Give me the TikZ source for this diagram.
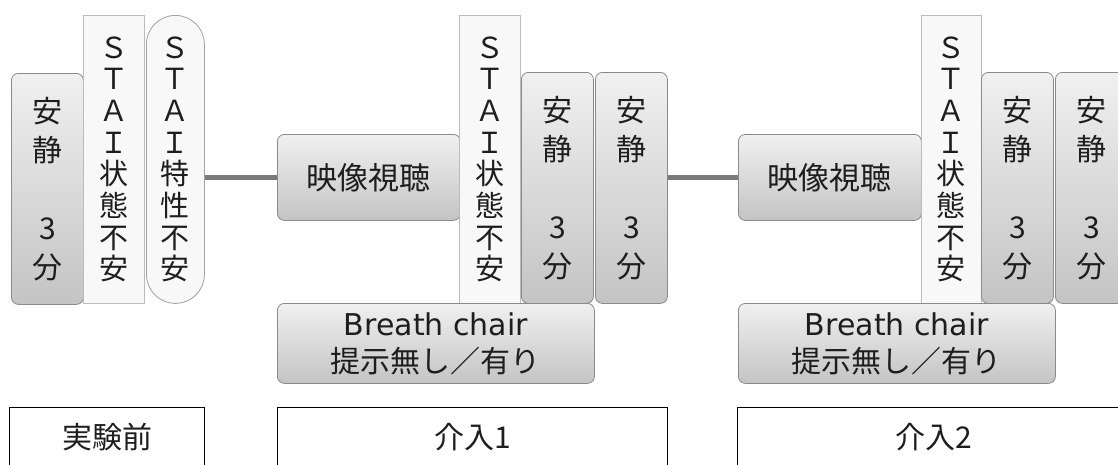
\documentclass[tikz,border=0pt]{standalone}
\usepackage{fontspec}
\setmainfont{Noto Sans CJK JP}
\newfontfamily\lat{DejaVu Sans}
\definecolor{gtop}{HTML}{F0F0F0}
\definecolor{gbot}{HTML}{C4C4C4}
\definecolor{boxline}{HTML}{8A8A8A}
\definecolor{staifill}{HTML}{F8F8F8}
\definecolor{stailine}{HTML}{BBBBBB}
\definecolor{linkgray}{HTML}{7A7A7A}
\definecolor{txt}{HTML}{1E1E1E}
\begin{document}
\begin{tikzpicture}[x=1pt,y=-1pt,
  gbox/.style={draw=boxline, line width=0.8pt, rounded corners=7pt, top color=gtop, bottom color=gbot,
    inner sep=0pt, anchor=north west, align=center, text=txt},
  restbox/.style={gbox, minimum width=72pt, minimum height=231pt, font=\fontsize{30}{39}\selectfont},
  staibox/.style={draw=stailine, fill=staifill, line width=0.8pt, inner sep=0pt, anchor=north west,
    align=center, text=txt, minimum width=61pt, minimum height=288pt, font=\fontsize{29}{31.7}\selectfont},
  pillbox/.style={staibox, draw=boxline!80, rounded corners=29pt, minimum width=58pt},
  eizobox/.style={gbox, minimum width=183pt, minimum height=86pt, font=\fontsize{31}{37}\selectfont},
  breathbox/.style={gbox, minimum width=317pt, minimum height=80pt, font=\fontsize{30}{37}\selectfont},
  phasebox/.style={draw=black, line width=1pt, fill=white, inner sep=0pt, anchor=north west,
    minimum height=60pt, font=\fontsize{30}{36}\selectfont, text=txt},
  link/.style={draw=linkgray, line width=5.5pt}]
\useasboundingbox (0,0) rectangle (1118,464);
\clip (0,0) rectangle (1118,464);

% --- pre-experiment
\node[restbox] (restA) at (11,73) {安\\静\\~\\3\\分};
\node[staibox] (staiA) at (83,15) {Ｓ\\Ｔ\\Ａ\\Ｉ\\状\\態\\不\\安};
\node[pillbox] (toku) at (146,15) {Ｓ\\Ｔ\\Ａ\\Ｉ\\特\\性\\不\\安};

% --- intervention 1
\node[eizobox] (eizoA) at (277,134) {映像視聴};
\node[staibox] (staiB) at (459,15) {Ｓ\\Ｔ\\Ａ\\Ｉ\\状\\態\\不\\安};
\node[restbox] (restB1) at (521,72) {安\\静\\~\\3\\分};
\node[restbox] (restB2) at (595,72) {安\\静\\~\\3\\分};
\node[breathbox] (breathA) at (277,303) {{\lat Breath chair}\\提示無し／有り};

% --- intervention 2
\node[eizobox] (eizoB) at (738,134) {映像視聴};
\node[staibox, minimum width=60pt] (staiC) at (921,15) {Ｓ\\Ｔ\\Ａ\\Ｉ\\状\\態\\不\\安};
\node[restbox] (restC1) at (981,72) {安\\静\\~\\3\\分};
\node[restbox] (restC2) at (1055,72) {安\\静\\~\\3\\分};
\node[breathbox] (breathB) at (738,303) {{\lat Breath chair}\\提示無し／有り};

% --- connectors
\draw[link] (toku.east |- eizoA.west) -- (eizoA.west);
\draw[link] (restB2.east |- eizoB.west) -- (eizoB.west);

% --- phase labels
\node[phasebox, minimum width=195pt] (pre) at (9,407) {実験前};
\node[phasebox, minimum width=390pt] (int1) at (277,407) {介入1};
\node[phasebox, minimum width=392pt] (int2) at (737,407) {介入2};
\end{tikzpicture}
\end{document}
